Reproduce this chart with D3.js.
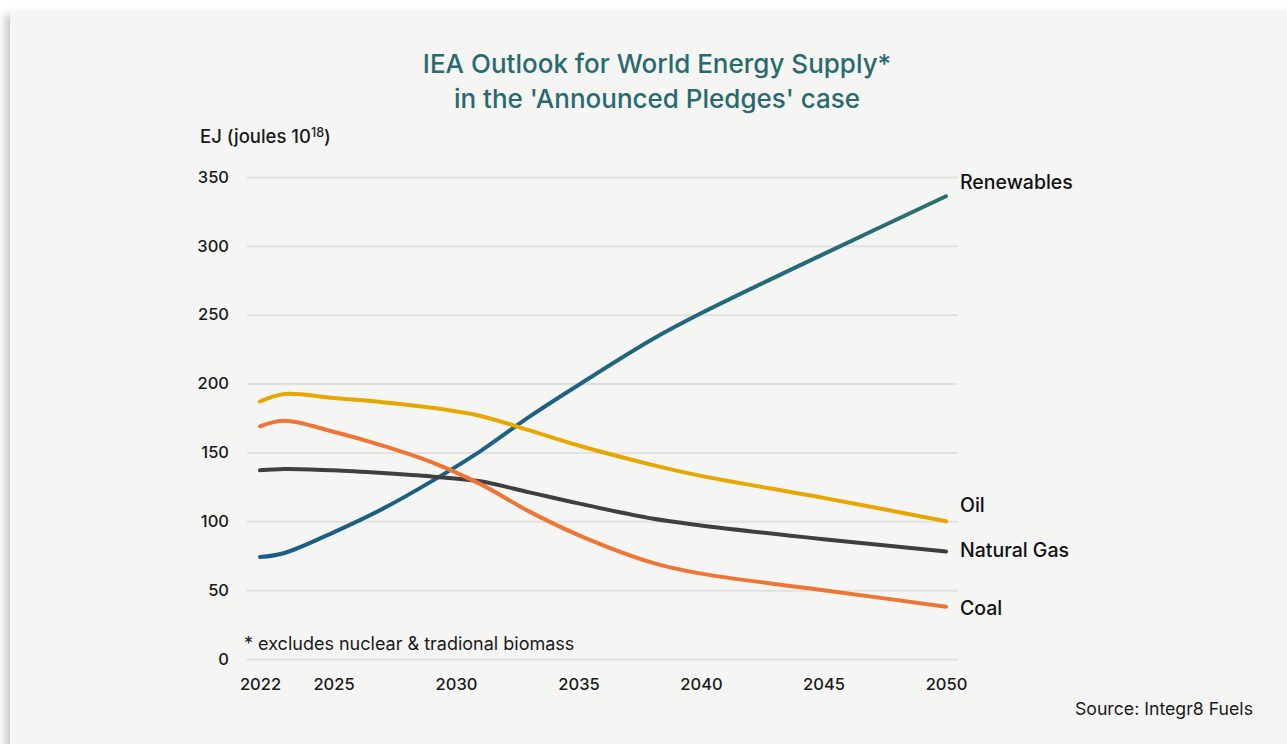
<!DOCTYPE html>
<html>
<head>
<meta charset="utf-8">
<script src="https://cdn.jsdelivr.net/npm/d3@7"></script>
<style>
  html, body { margin: 0; padding: 0; background: #ffffff; overflow: hidden; }
  #card {
    position: absolute; left: 10px; top: 12px; width: 1290px; height: 740px;
    background: #f5f5f3;
    box-shadow: -5px 3px 8px rgba(0, 0, 0, 0.22);
  }
  svg { position: absolute; left: 0; top: 0; }
  text { font-family: Inter, "Noto Sans", sans-serif; }
</style>
</head>
<body>
<div id="card"></div>
<svg id="chart" width="1287" height="744"></svg>
<script>
// ---- data ----
const years = [2022, 2023, 2025, 2027, 2029, 2031, 2033, 2035, 2038, 2040, 2045, 2050];
const renewables = [74, 77, 92, 109, 129, 151, 176, 199, 232, 251, 294, 336];
const oil = [187, 192.5, 189.5, 186.5, 182.5, 176.5, 166, 155, 141, 133, 117, 100];
const naturalGas = [137, 138, 137, 135, 132.5, 129, 121, 113, 102, 97, 87, 78];
const coal = [169, 173, 165, 155, 143, 127, 107, 90, 70, 62, 50, 38];

const xTicks = [2022, 2025, 2030, 2035, 2040, 2045, 2050];
const yTicks = [0, 50, 100, 150, 200, 250, 300, 350];

const seriesNames = ['Renewables', 'Oil', 'Natural Gas', 'Coal'];
const seriesValues = [renewables, oil, naturalGas, coal];
const seriesColors = ['url(#renewGrad)', '#e8a600', '#3f3f3f', '#ee7535'];
const labelOffsets = [-7, -9, 5, 8];

// ---- scales ----
const svg = d3.select('#chart');
const x = d3.scaleLinear().domain([2022, 2050]).range([260, 946]);
const y = d3.scaleLinear().domain([0, 350]).range([659, 177]);

// gradient for renewables (blue -> teal)
const defs = svg.append('defs');
const grad = defs.append('linearGradient')
  .attr('id', 'renewGrad')
  .attr('gradientUnits', 'userSpaceOnUse')
  .attr('x1', x(2022)).attr('x2', x(2050))
  .attr('y1', 0).attr('y2', 0);
grad.append('stop').attr('offset', '0%').attr('stop-color', '#1b5d88');
grad.append('stop').attr('offset', '55%').attr('stop-color', '#1f6580');
grad.append('stop').attr('offset', '100%').attr('stop-color', '#2b7070');

// ---- title ----
svg.append('text')
  .attr('x', 657).attr('y', 73)
  .attr('text-anchor', 'middle')
  .attr('font-size', 26).attr('font-weight', 500)
  .attr('fill', '#2a6a6e')
  .text('IEA Outlook for World Energy Supply*');
svg.append('text')
  .attr('x', 657).attr('y', 108)
  .attr('text-anchor', 'middle')
  .attr('font-size', 26).attr('font-weight', 500)
  .attr('fill', '#2a6a6e')
  .text("in the 'Announced Pledges' case");

// y axis title
const yt = svg.append('text')
  .attr('x', 200).attr('y', 143)
  .attr('font-size', 18.5).attr('font-weight', 500)
  .attr('fill', '#1a1a1a');
yt.append('tspan').text('EJ (joules 10');
yt.append('tspan').attr('font-size', 12.5).attr('dy', -6).text('18');
yt.append('tspan').attr('dy', 6).text(')');

// ---- gridlines + y axis ----
const yAxis = svg.append('g')
  .attr('transform', 'translate(247,0)')
  .call(d3.axisLeft(y).tickValues(yTicks).tickSize(-711).tickPadding(18));
yAxis.select('.domain').remove();
yAxis.selectAll('.tick line').attr('stroke', '#e1e1df').attr('stroke-width', 2);
yAxis.selectAll('.tick text')
  .attr('font-size', 16.5).attr('font-weight', 500).attr('fill', '#1a1a1a')
  .attr('font-family', 'Inter, "Noto Sans", sans-serif');

// ---- x axis ----
const xAxis = svg.append('g')
  .attr('transform', 'translate(0,672)')
  .call(d3.axisBottom(x).tickValues(xTicks).tickFormat(d3.format('d')).tickSize(0).tickPadding(6));
xAxis.select('.domain').remove();
xAxis.selectAll('.tick text')
  .attr('font-size', 16.5).attr('font-weight', 500).attr('fill', '#1a1a1a')
  .attr('font-family', 'Inter, "Noto Sans", sans-serif');

// ---- lines ----
const line = d3.line()
  .x((d, i) => x(years[i]))
  .y(d => y(d))
  .curve(d3.curveCatmullRom.alpha(0.5));

seriesValues.forEach((vals, k) => {
  svg.append('path')
    .datum(vals)
    .attr('d', line)
    .attr('fill', 'none')
    .attr('stroke', seriesColors[k])
    .attr('stroke-width', 4)
    .attr('stroke-linecap', 'round')
    .attr('stroke-linejoin', 'round');

  svg.append('text')
    .attr('x', 960)
    .attr('y', y(vals[vals.length - 1]) + labelOffsets[k])
    .attr('font-size', 19.5).attr('font-weight', 500)
    .attr('fill', '#111')
    .text(seriesNames[k]);
});

// ---- notes ----
svg.append('text')
  .attr('x', 244).attr('y', 650)
  .attr('font-size', 18).attr('fill', '#1a1a1a')
  .text('* excludes nuclear & tradional biomass');

svg.append('text')
  .attr('x', 1253).attr('y', 715)
  .attr('text-anchor', 'end')
  .attr('font-size', 17.7).attr('fill', '#1a1a1a')
  .text('Source: Integr8 Fuels');
</script>
</body>
</html>
